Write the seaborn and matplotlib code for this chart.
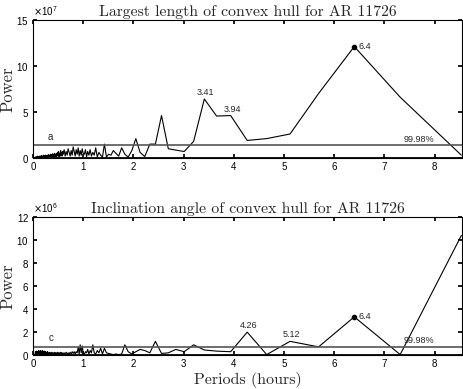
import numpy as np
import pandas as pd
import matplotlib
matplotlib.use("Agg")
import matplotlib.pyplot as plt
import seaborn as sns
from matplotlib.ticker import ScalarFormatter

# periods (hours) of the periodogram grid
periods = [
    8.533, 7.314, 6.4, 5.689, 5.12, 4.655, 4.267, 3.938, 3.657, 3.413,
    3.2, 3.012, 2.844, 2.695, 2.56, 2.438, 2.327, 2.226, 2.133, 2.048,
    1.969, 1.896, 1.829, 1.766, 1.707, 1.652, 1.6, 1.552, 1.506, 1.463,
    1.422, 1.384, 1.347, 1.313, 1.28, 1.249, 1.219, 1.191, 1.164, 1.138,
    1.113, 1.089, 1.067, 1.045, 1.024, 1.0, 0.98, 0.96, 0.94, 0.92,
    0.90, 0.88, 0.86, 0.84, 0.82, 0.80, 0.78, 0.76, 0.74, 0.72,
    0.70, 0.68, 0.66, 0.64, 0.62, 0.60, 0.59, 0.58, 0.57, 0.56,
    0.55, 0.54, 0.53, 0.52, 0.51, 0.50, 0.49, 0.48, 0.47, 0.46,
    0.45, 0.44, 0.43, 0.42, 0.41, 0.40, 0.39, 0.38, 0.37, 0.36,
    0.35, 0.34, 0.33, 0.32, 0.31, 0.30, 0.29, 0.28, 0.27, 0.26,
    0.25, 0.24, 0.23, 0.22, 0.21, 0.20, 0.19, 0.18, 0.17, 0.16,
    0.15, 0.14, 0.13, 0.12, 0.11, 0.10, 0.09, 0.08, 0.07, 0.06,
    0.05, 0.04,
]

# power of largest length (x 1e7)
length_power = [
    0.3, 6.6, 12.1, 7.0, 2.6, 2.1, 1.9, 4.6, 4.55, 6.4,
    1.8, 0.7, 0.85, 1.0, 4.6, 1.5, 1.5, 0.15, 0.6, 2.1,
    0.8, 0.1, 0.4, 1.1, 0.2, 0.5, 0.8, 0.3, 0.4, 0.1,
    1.5, 0.1, 0.3, 0.6, 0.1, 1.1, 0.3, 0.6, 0.2, 0.9,
    0.3, 0.7, 0.1, 0.9, 0.4, 0.5, 1.0, 0.3, 0.8, 0.2,
    1.1, 0.4, 0.9, 0.2, 0.7, 1.2, 0.3, 0.8, 0.2, 0.6,
    1.0, 0.3, 0.7, 0.2, 0.9, 0.4, 0.7, 0.2, 0.6, 0.3,
    0.8, 0.2, 0.5, 0.1, 0.7, 0.3, 0.6, 0.2, 0.5, 0.1,
    0.4, 0.2, 0.5, 0.1, 0.4, 0.2, 0.45, 0.1, 0.35, 0.15,
    0.4, 0.1, 0.3, 0.15, 0.35, 0.1, 0.3, 0.05, 0.25, 0.1,
    0.3, 0.05, 0.25, 0.1, 0.3, 0.05, 0.2, 0.1, 0.25, 0.05,
    0.2, 0.1, 0.2, 0.05, 0.15, 0.1, 0.2, 0.05, 0.15, 0.05,
    0.1, 0.05,
]

# power of inclination angle (x 1e6)
angle_power = [
    10.4, 0.05, 3.33, 0.72, 1.2, 0.05, 2.0, 0.3, 0.35, 0.45,
    0.9, 0.3, 0.5, 0.2, 0.15, 1.2, 0.2, 0.4, 0.5, 0.3,
    0.1, 0.3, 0.9, 0.1, 0.05, 0.1, 0.05, 0.1, 0.15, 0.2,
    0.6, 0.1, 0.6, 0.2, 0.4, 0.1, 0.2, 0.9, 0.2, 0.4,
    0.1, 0.5, 0.2, 0.3, 0.1, 0.2, 0.8, 0.2, 0.9, 0.1,
    0.7, 0.2, 0.3, 0.1, 0.3, 0.15, 0.3, 0.1, 0.25, 0.1,
    0.2, 0.1, 0.25, 0.1, 0.2, 0.1, 0.2, 0.05, 0.2, 0.1,
    0.25, 0.05, 0.2, 0.1, 0.2, 0.05, 0.25, 0.1, 0.2, 0.05,
    0.2, 0.1, 0.25, 0.05, 0.2, 0.1, 0.2, 0.05, 0.25, 0.1,
    0.2, 0.05, 0.25, 0.1, 0.2, 0.05, 0.3, 0.1, 0.25, 0.05,
    0.3, 0.1, 0.35, 0.05, 0.3, 0.1, 0.4, 0.05, 0.35, 0.1,
    0.4, 0.05, 0.35, 0.1, 0.4, 0.05, 0.3, 0.1, 0.35, 0.05,
    0.3, 0.1,
]

length_level = 1.4   # 99.98% confidence level, x 1e7
angle_level = 0.75   # x 1e6
length_peaks = [3.41, 3.94, 6.4]
angle_peaks = [4.26, 5.12, 6.4]

sns.set_theme(style="ticks")
plt.rcParams.update({
    "font.family": ["Liberation Sans", "DejaVu Sans"],
    "xtick.direction": "in",
    "ytick.direction": "in",
    "xtick.top": True,
    "ytick.right": True,
    "xtick.labelsize": 7,
    "ytick.labelsize": 7,
    "xtick.major.size": 3,
    "ytick.major.size": 3,
    "xtick.major.pad": 3,
    "ytick.major.pad": 3,
    "axes.linewidth": 0.8,
    "axes.edgecolor": "black",
    "xtick.color": "black",
    "ytick.color": "black",
})

fig = plt.figure(figsize=(4.63, 3.89), dpi=100)
fig.patch.set_facecolor("white")
ax1 = fig.add_axes([0.0713, 0.594, 0.927, 0.355])
ax2 = fig.add_axes([0.0713, 0.087, 0.927, 0.355])

serif = "cmr10"


def draw_panel(ax, power, exp, level, peaks, letter, title, ymax, yticks):
    scale = 10.0 ** exp
    df = pd.DataFrame({"period": periods, "power": np.array(power) * scale})
    sns.lineplot(data=df, x="period", y="power", ax=ax, color="black",
                 lw=0.8, estimator=None, sort=True)
    ax.axhline(level * scale, color="#555555", lw=1.2)
    ax.axhline(0, color="black", lw=2.0)
    for p in peaks:
        i = int(np.argmin(np.abs(np.array(periods) - p)))
        x = df["period"].iloc[i]
        y = df["power"].iloc[i]
        if p == 6.4:
            ax.plot([x], [y], "o", color="black", ms=3)
            ax.annotate(f"{p:g}", (x, y), xytext=(3, 0),
                        textcoords="offset points", ha="left", va="center",
                        fontsize=6.5)
        else:
            ax.annotate(f"{p:g}", (x, y), xytext=(1, 1.5),
                        textcoords="offset points", ha="center", va="bottom",
                        fontsize=6.5)
    ax.annotate("99.98%", (8.0, level * scale), xytext=(0, 1),
                textcoords="offset points", ha="right", va="bottom",
                fontsize=6.5)
    ax.annotate(letter, (0.35, level * scale), xytext=(0, 2.5),
                textcoords="offset points", ha="center", va="bottom",
                fontsize=7)
    ax.set_xlim(0, 8.55)
    ax.set_ylim(0, ymax * scale)
    ax.set_xticks(range(0, 9))
    ax.set_yticks(np.array(yticks) * scale)
    fmt = ScalarFormatter(useMathText=True)
    fmt.set_powerlimits((exp, exp))
    ax.yaxis.set_major_formatter(fmt)
    ax.yaxis.get_offset_text().set_fontsize(7)
    ax.set_title(title, family=serif, fontsize=11.3, pad=3)
    ax.set_ylabel("Power", family=serif, fontsize=12, labelpad=1)
    ax.set_xlabel("")


draw_panel(ax1, length_power, 7, length_level, length_peaks, "a",
           "Largest length of convex hull for AR 11726", 15, [0, 5, 10, 15])
draw_panel(ax2, angle_power, 6, angle_level, angle_peaks, "c",
           "Inclination angle of convex hull for AR 11726", 12,
           [0, 2, 4, 6, 8, 10, 12])
ax2.set_xlabel("Periods (hours)", family=serif, fontsize=11.5, labelpad=2)

fig.savefig("out.png", dpi=100, facecolor="white")
